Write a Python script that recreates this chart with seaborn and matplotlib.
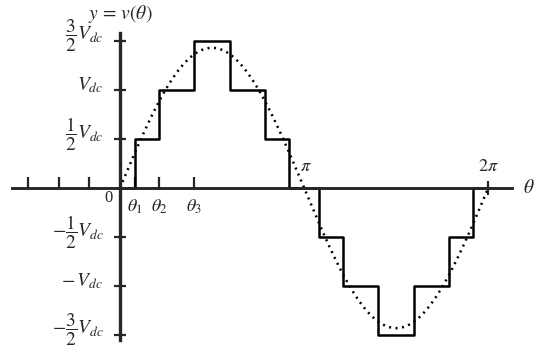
import numpy as np
import pandas as pd
import matplotlib
matplotlib.use("Agg")
import matplotlib.pyplot as plt
import seaborn as sns

# switching angles (rad) and staircase levels (in units of Vdc)
theta_1, theta_2, theta_3 = 0.256, 0.666, 1.26
switch_angles = [0, theta_1, theta_2, theta_3,
                 np.pi - theta_3, np.pi - theta_2, np.pi - theta_1,
                 np.pi + theta_1, np.pi + theta_2, np.pi + theta_3,
                 2 * np.pi - theta_3, 2 * np.pi - theta_2, 2 * np.pi - theta_1,
                 2 * np.pi]
step_levels = [0, 0.5, 1.0, 1.5, 1.0, 0.5, 0, -0.5, -1.0, -1.5, -1.0, -0.5, 0, 0]
fundamental_amp = 1.43

ytick_vals = [-1.5, -1.0, -0.5, 0.5, 1.0, 1.5]
ytick_labels = [r"$-\dfrac{3}{2}V_{dc}$", r"$-\,V_{dc}$", r"$-\dfrac{1}{2}V_{dc}$",
                r"$\dfrac{1}{2}V_{dc}$", r"$V_{dc}$", r"$\dfrac{3}{2}V_{dc}$"]
xtick_vals = [-np.pi / 2, -np.pi / 3, -np.pi / 6, theta_1, theta_2, theta_3]
xtick_labels = ["", "", "", r"$\theta_1$", r"$\theta_2$", r"$\theta_3$"]

sns.set_style("white")
plt.rcParams["mathtext.fontset"] = "stix"
plt.rcParams["font.family"] = ["Liberation Serif", "DejaVu Serif"]

fig = plt.figure(figsize=(5.4, 3.49), dpi=100)
ax = fig.add_axes([0, 0, 1, 1])

steps = pd.DataFrame({"theta": switch_angles, "v": step_levels})
sns.lineplot(data=steps, x="theta", y="v", drawstyle="steps-post",
             color="black", lw=1.8, ax=ax, zorder=3)

theta = np.linspace(0, 2 * np.pi, 400)
fund = pd.DataFrame({"theta": theta, "v": fundamental_amp * np.sin(theta)})
sns.lineplot(data=fund, x="theta", y="v", color="black", lw=1.8,
             linestyle=(0, (0.8, 1.8)), ax=ax, zorder=4)

ax.set_xlim(-2.048, 7.167)
ax.set_ylim(-1.643, 1.918)

# axes drawn through the origin
for s in ["top", "right"]:
    ax.spines[s].set_visible(False)
ax.spines["left"].set_position(("data", 0))
ax.spines["bottom"].set_position(("data", 0))
ax.spines["left"].set_linewidth(2.4)
ax.spines["bottom"].set_linewidth(2.1)
ax.spines["left"].set_bounds(-1.55, 1.58)
ax.spines["bottom"].set_bounds(-1.84, 6.69)
ax.spines["left"].set_zorder(5)
ax.spines["bottom"].set_zorder(5)

# y ticks, labels written beside them
ax.set_yticks(ytick_vals)
ax.set_yticklabels([])
ax.tick_params(axis="y", left=True, direction="inout", length=8, width=1.6)
for v, lab in zip(ytick_vals, ytick_labels):
    ax.text(-0.28, v + 0.05, lab, fontsize=14, ha="right", va="center")

ax.set_xticks(xtick_vals)
ax.set_xticklabels(xtick_labels, fontsize=13)
ax.set_xticks([2 * np.pi], minor=True)
ax.tick_params(axis="x", which="major", bottom=True, direction="in",
               length=8, width=1.6, pad=7)
ax.tick_params(axis="x", which="minor", bottom=True, direction="inout",
               length=10, width=1.6)
ax.set_xlabel("")
ax.set_ylabel("")

ax.text(-0.2, -0.1, "0", fontsize=12, ha="center", va="center")
ax.text(np.pi + 0.03, 0.22, r"$\pi$", fontsize=13, ha="center", va="center")
ax.text(2 * np.pi, 0.22, r"$2\pi$", fontsize=13, ha="center", va="center")
ax.text(6.97, 0, r"$\theta$", fontsize=14, ha="center", va="center")
ax.text(0, 1.78, r"$y\,=\,v(\theta)$", fontsize=14, ha="center", va="center")

fig.savefig("out.png", dpi=100)
